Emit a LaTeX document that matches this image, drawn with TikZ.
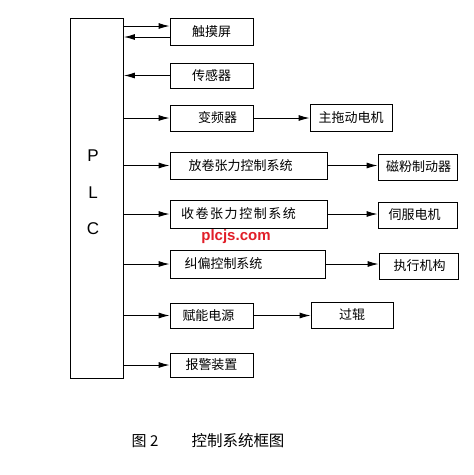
\documentclass[tikz,border=0pt]{standalone}
\usepackage{fontspec}
\setmainfont{Liberation Sans}
\newfontfamily\cjk{Noto Sans CJK SC}[Scale=1]
\usetikzlibrary{arrows.meta}
\definecolor{wmred}{RGB}{225,30,40}
\begin{document}
\begin{tikzpicture}[x=1pt,y=-1pt,
  box/.style={draw,line width=0.9pt,rectangle,inner sep=0pt,minimum height=26pt,minimum width=83pt,font=\cjk\fontsize{13}{13}\selectfont},
  arr/.style={line width=0.9pt,-{Latex[length=11pt,width=6pt]}},
  ln/.style={line width=0.9pt}]
\fill[white] (0,0) rectangle (474,475);
\useasboundingbox (0,0) rectangle (474,475);
% PLC
\node[draw,line width=0.9pt,minimum width=53pt,minimum height=360pt,inner sep=0pt] (plc) at (97,198) {};
\node[font=\fontsize{17}{17}\selectfont] (p) at (93,156) {P};
\node[font=\fontsize{17}{17}\selectfont] (l) at (93,193) {L};
\node[font=\fontsize{17}{17}\selectfont] (c) at (93,229) {C};
% first column
\node[box,minimum height=27pt] (tp) at (211.5,31.5) {触摸屏};
\node[box,minimum height=25pt] (sens) at (211.5,75.5) {传感器};
\node[box] (vfd) at (211.5,118) {\kern12pt变频器};
\node[box,minimum width=157pt,minimum height=27pt] (unw) at (248.5,165.5) {\kern-16pt放卷张力控制系统};
\node[box,minimum width=157pt,minimum height=28pt] (rew) at (248.5,214) {\kern-20pt\addfontfeatures{LetterSpace=12}收卷张力控制系统};
\node[box,minimum width=155pt,minimum height=28pt] (epc) at (247.5,264) {\kern-48pt纠偏控制系统};
\node[box,minimum height=25pt] (pwr) at (211.5,315.5) {\kern-6pt赋能电源};
\node[box,minimum height=24pt] (alarm) at (211.5,365) {报警装置};
% second column
\node[box,minimum width=82pt,minimum height=27pt] (motor) at (351,117.5) {主拖动电机};
\node[box,minimum width=79pt] (brake) at (417.5,167) {\kern2pt磁粉制动器};
\node[box,minimum width=79pt] (servo) at (417.5,215) {\kern-6pt伺服电机};
\node[box,minimum width=79pt] (act) at (418.5,266) {\kern2pt执行机构};
\node[box,minimum width=82pt] (roll) at (352,315) {过辊};
% connectors
\draw[arr] (plc.east |- 0,26) -- (tp.west |- 0,26);
\draw[arr] (tp.west |- 0,37) -- (plc.east |- 0,37);
\draw[arr] (sens.west) -- (plc.east |- sens.west);
\draw[arr] (plc.east |- vfd.west) -- (vfd.west);
\draw[arr] (plc.east |- unw.west) -- (unw.west);
\draw[arr] (plc.east |- rew.west) -- (rew.west);
\draw[arr] (plc.east |- epc.west) -- (epc.west);
\draw[arr] (plc.east |- pwr.west) -- (pwr.west);
\draw[arr] (plc.east |- alarm.west) -- (alarm.west);
\draw[arr] (vfd.east) -- (motor.west |- vfd.east);
\draw[arr] (unw.east) -- (brake.west |- unw.east);
\draw[arr] (rew.east) -- (servo.west |- rew.east);
\draw[arr] (epc.east) -- (act.west |- epc.east);
\draw[arr] (pwr.east) -- (roll.west |- pwr.east);
% watermark
\node[font=\bfseries\fontsize{15}{15}\selectfont,text=wmred] (wm) at (236,237) {plcjs.com};
% caption
\node[font=\cjk\fontsize{15}{15}\selectfont] (fig) at (145,441) {图 2};
\node[font=\cjk\fontsize{15.5}{15.5}\selectfont] (cap) at (238,441) {控制系统框图};
\end{tikzpicture}
\end{document}
